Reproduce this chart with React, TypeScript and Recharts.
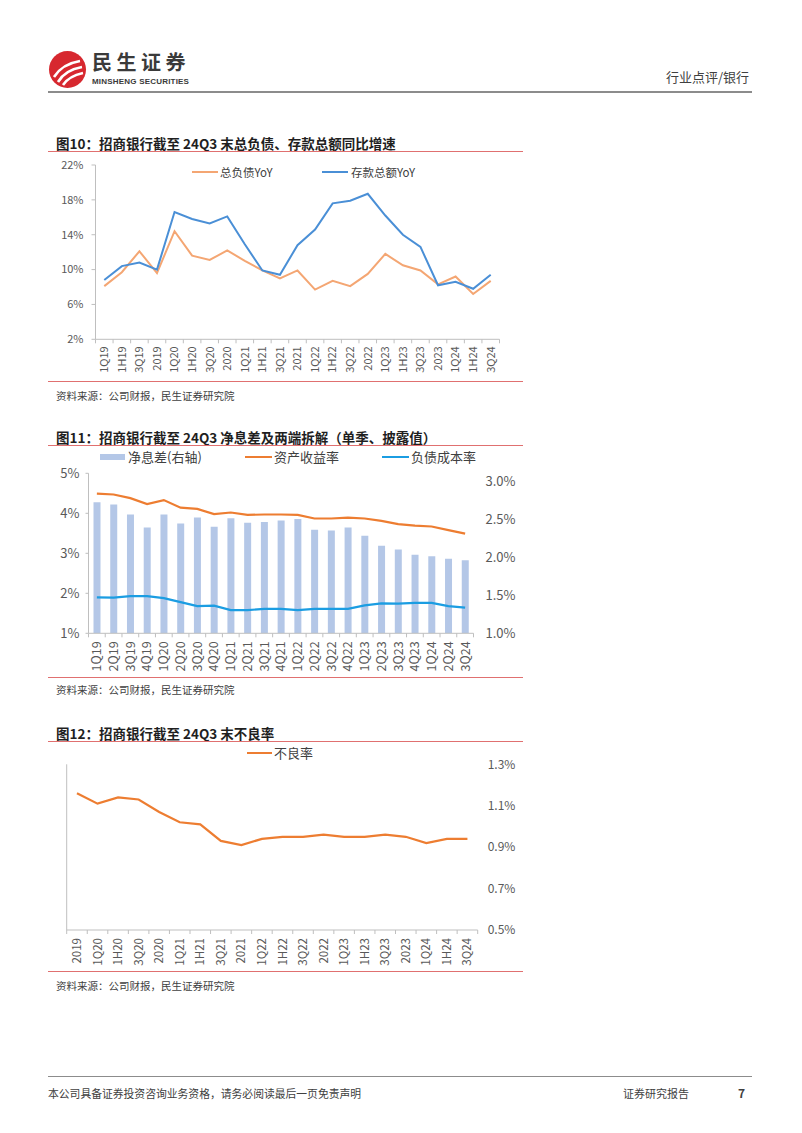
import React from "react";
import { Bar, ComposedChart, Line, LineChart, XAxis, YAxis } from "recharts";

const FONT = '"Noto Sans CJK SC", "Noto Sans", sans-serif';
const AXIS_GREY = "#BFBFBF";
const LABEL_GREY = "#595959";
const RULE_RED = "#E07070";

// 图10 总负债、存款总额同比增速 (%)
const periods10 = ["1Q19", "1H19", "3Q19", "2019", "1Q20", "1H20", "3Q20", "2020", "1Q21", "1H21", "3Q21", "2021", "1Q22", "1H22", "3Q22", "2022", "1Q23", "1H23", "3Q23", "2023", "1Q24", "1H24", "3Q24"];
const liabilityYoY = [8.1, 9.7, 12.1, 9.6, 14.4, 11.6, 11.1, 12.2, 11.0, 9.9, 9.0, 9.9, 7.7, 8.7, 8.1, 9.5, 11.8, 10.5, 9.9, 8.3, 9.2, 7.2, 8.7];
const depositYoY = [8.8, 10.4, 10.8, 10.0, 16.6, 15.8, 15.3, 16.1, 12.9, 9.9, 9.4, 12.8, 14.6, 17.6, 17.9, 18.7, 16.2, 14.0, 12.6, 8.2, 8.6, 7.8, 9.4];
const ticks10 = [2, 6, 10, 14, 18, 22];

// 图11 净息差及两端拆解 (%)
const quarters11 = ["1Q19", "2Q19", "3Q19", "4Q19", "1Q20", "2Q20", "3Q20", "4Q20", "1Q21", "2Q21", "3Q21", "4Q21", "1Q22", "2Q22", "3Q22", "4Q22", "1Q23", "2Q23", "3Q23", "4Q23", "1Q24", "2Q24", "3Q24"];
const nim = [2.72, 2.69, 2.56, 2.39, 2.56, 2.44, 2.52, 2.4, 2.51, 2.45, 2.46, 2.48, 2.5, 2.36, 2.35, 2.39, 2.28, 2.15, 2.1, 2.03, 2.01, 1.98, 1.96];
const assetYield = [4.49, 4.47, 4.38, 4.23, 4.33, 4.14, 4.11, 3.98, 4.02, 3.96, 3.97, 3.97, 3.96, 3.87, 3.87, 3.89, 3.87, 3.81, 3.73, 3.69, 3.67, 3.58, 3.49];
const liabilityCost = [1.9, 1.89, 1.93, 1.93, 1.88, 1.78, 1.68, 1.69, 1.58, 1.58, 1.61, 1.61, 1.58, 1.61, 1.61, 1.61, 1.7, 1.75, 1.74, 1.76, 1.76, 1.68, 1.64];
const leftTicks11 = [1, 2, 3, 4, 5];
const rightTicks11 = [1, 1.5, 2, 2.5, 3];

// 图12 不良率 (%)
const periods12 = ["2019", "1Q20", "1H20", "3Q20", "2020", "1Q21", "1H21", "3Q21", "2021", "1Q22", "1H22", "3Q22", "2022", "1Q23", "1H23", "3Q23", "2023", "1Q24", "1H24", "3Q24"];
const nplRatio = [1.16, 1.11, 1.14, 1.13, 1.07, 1.02, 1.01, 0.93, 0.91, 0.94, 0.95, 0.95, 0.96, 0.95, 0.95, 0.96, 0.95, 0.92, 0.94, 0.94];
const ticks12 = [0.5, 0.7, 0.9, 1.1, 1.3];

const data10 = periods10.map((p, i) => ({ p, liab: liabilityYoY[i], dep: depositYoY[i] }));
const data11 = quarters11.map((q, i) => ({ q, nim: nim[i], ay: assetYield[i], lc: liabilityCost[i] }));
const data12 = periods12.map((p, i) => ({ p, npl: nplRatio[i] }));

// rotated category label + tick marks on the category boundaries
function makeTick(plotWidth: number, count: number, fontSize: number, gap: number) {
  const half = plotWidth / count / 2;
  return (props: any) => {
    const { x, y, payload, index } = props;
    return (
      <g>
        <line x1={x - half} x2={x - half} y1={y} y2={y + 4} stroke={AXIS_GREY} />
        {index === count - 1 && <line x1={x + half} x2={x + half} y1={y} y2={y + 4} stroke={AXIS_GREY} />}
        <text
          transform={`translate(${x},${y + gap}) rotate(-90)`}
          textAnchor="end"
          dy="0.35em"
          fontSize={fontSize}
          fill={LABEL_GREY}
          fontFamily={FONT}
        >
          {payload.value}
        </text>
      </g>
    );
  };
}

function Abs({ left, top, children, style }: any) {
  return <div style={{ position: "absolute", left, top, whiteSpace: "nowrap", ...style }}>{children}</div>;
}

function Rule({ top, left = 48, width = 475, color = RULE_RED, h = 1 }: any) {
  return <div style={{ position: "absolute", left, top, width, height: h, background: color }} />;
}

function Title({ top, children }: any) {
  return (
    <Abs left={56} top={top - 9} style={{ fontSize: 13.5, lineHeight: "18px", fontWeight: 700, color: "#1f1f1f" }}>
      {children}
    </Abs>
  );
}

function Source({ top }: any) {
  return (
    <Abs left={56} top={top - 7} style={{ fontSize: 10.5, lineHeight: "14px", color: "#404040" }}>
      资料来源：公司财报，民生证券研究院
    </Abs>
  );
}

function LegendLine({ left, top, width, color, text, fontSize, textLeft }: any) {
  return (
    <>
      <div style={{ position: "absolute", left, top: top - 1, width, height: 2.2, background: color }} />
      <Abs left={textLeft} top={top - fontSize * 0.7} style={{ fontSize, lineHeight: `${fontSize * 1.4}px`, color: "#404040" }}>
        {text}
      </Abs>
    </>
  );
}

function Logo() {
  return (
    <svg style={{ position: "absolute", left: 48, top: 50 }} width={40} height={40}>
      <circle cx={19.5} cy={19.5} r={18.5} fill="#D7282F" />
      <path d="M6 27 Q14 14 32 11" stroke="#fff" strokeWidth={2.6} fill="none" />
      <path d="M10 32 Q17 20 34 17" stroke="#fff" strokeWidth={2.6} fill="none" />
      <path d="M15 35 Q21 26 35 23" stroke="#fff" strokeWidth={2.6} fill="none" />
    </svg>
  );
}

export default function App() {
  return (
    <div style={{ position: "absolute", left: 0, top: 0, width: 802, height: 1133, background: "#fff", fontFamily: FONT }}>
      {/* header */}
      <Logo />
      <Abs left={92} top={50.5} style={{ fontSize: 20, lineHeight: "21px", fontWeight: 700, color: "#3a3a3a", letterSpacing: 4.5 }}>
        民生证券
      </Abs>
      <Abs left={92} top={76.5} style={{ fontSize: 8, lineHeight: "9px", fontWeight: 700, color: "#3a3a3a", fontFamily: "Arial, 'Liberation Sans', sans-serif", letterSpacing: 0.2 }}>
        MINSHENG SECURITIES
      </Abs>
      <Abs left={666} top={69} style={{ fontSize: 13, lineHeight: "16px", color: "#404040" }}>
        行业点评/银行
      </Abs>
      <Rule top={91} left={48} width={704} color="#8c8c8c" h={1.5} />

      {/* 图10 */}
      <Title top={142.5}>图10：招商银行截至 24Q3 末总负债、存款总额同比增速</Title>
      <Rule top={150.5} />
      <LegendLine left={192} top={172} width={26} color="#F4A673" text="总负债YoY" fontSize={11.5} textLeft={220} />
      <LegendLine left={322} top={172} width={26} color="#4A8FD6" text="存款总额YoY" fontSize={11.5} textLeft={351} />
      <div style={{ position: "absolute", left: 40, top: 155 }}>
        <LineChart width={480} height={230} data={data10} margin={{ top: 10, right: 20.5, bottom: 5.7, left: 15.5 }}>
          <XAxis
            dataKey="p"
            scale="band"
            interval={0}
            height={40}
            tickLine={false}
            tickSize={0}
            tickMargin={0}
            axisLine={{ stroke: AXIS_GREY }}
            tick={makeTick(404, periods10.length, 11, 7)}
          />
          <YAxis
            width={40}
            domain={[2, 22]}
            ticks={ticks10}
            tickFormatter={(v: number) => `${v}%`}
            axisLine={{ stroke: AXIS_GREY }}
            tickLine={{ stroke: AXIS_GREY }}
            tickSize={4}
            tickMargin={8}
            tick={{ fontSize: 11, fill: LABEL_GREY, fontFamily: FONT }}
          />
          <Line dataKey="liab" type="linear" stroke="#F4A673" strokeWidth={2} dot={false} isAnimationActive={false} />
          <Line dataKey="dep" type="linear" stroke="#4A8FD6" strokeWidth={2} dot={false} isAnimationActive={false} />
        </LineChart>
      </div>
      <Rule top={381} />
      <Source top={396} />

      {/* 图11 */}
      <Title top={437}>图11：招商银行截至 24Q3 净息差及两端拆解（单季、披露值）</Title>
      <Rule top={445} />
      <div style={{ position: "absolute", left: 100, top: 454, width: 25, height: 6, background: "#B4C7E7" }} />
      <Abs left={128} top={448} style={{ fontSize: 13, lineHeight: "18px", color: "#404040" }}>净息差(右轴)</Abs>
      <LegendLine left={245} top={457} width={27} color="#ED7D31" text="资产收益率" fontSize={13} textLeft={274} />
      <LegendLine left={382} top={457} width={27} color="#1B9DE2" text="负债成本率" fontSize={13} textLeft={411} />
      <div style={{ position: "absolute", left: 40, top: 463 }}>
        <ComposedChart width={480} height={220} data={data11} margin={{ top: 10.3, right: 6.5, bottom: 5.7, left: 12.5 }}>
          <XAxis
            dataKey="q"
            interval={0}
            height={44}
            tickLine={false}
            tickSize={0}
            tickMargin={0}
            axisLine={{ stroke: AXIS_GREY }}
            tick={makeTick(385, quarters11.length, 12.5, 8)}
          />
          <YAxis
            yAxisId="left"
            width={36}
            domain={[1, 5]}
            ticks={leftTicks11}
            tickFormatter={(v: number) => `${v}%`}
            axisLine={{ stroke: AXIS_GREY }}
            tickLine={{ stroke: AXIS_GREY }}
            tickSize={3}
            tickMargin={6}
            tick={{ fontSize: 13, fill: LABEL_GREY, fontFamily: FONT }}
          />
          <YAxis
            yAxisId="right"
            orientation="right"
            width={40}
            domain={[1, 3.1]}
            ticks={rightTicks11}
            allowDataOverflow
            tickFormatter={(v: number) => `${v.toFixed(1)}%`}
            axisLine={false}
            tickLine={false}
            tickSize={0}
            tickMargin={12}
            tick={{ fontSize: 13, fill: LABEL_GREY, fontFamily: FONT }}
          />
          <Bar yAxisId="right" dataKey="nim" fill="#B4C7E7" barSize={7} isAnimationActive={false} />
          <Line yAxisId="left" dataKey="ay" type="linear" stroke="#ED7D31" strokeWidth={2.2} dot={false} isAnimationActive={false} />
          <Line yAxisId="left" dataKey="lc" type="linear" stroke="#1B9DE2" strokeWidth={2.2} dot={false} isAnimationActive={false} />
        </ComposedChart>
      </div>
      <Rule top={677} />
      <Source top={690} />

      {/* 图12 */}
      <Title top={732.5}>图12：招商银行截至 24Q3 末不良率</Title>
      <Rule top={740.5} />
      <LegendLine left={247} top={753} width={25} color="#ED7D31" text="不良率" fontSize={13} textLeft={274} />
      <div style={{ position: "absolute", left: 30, top: 755 }}>
        <LineChart width={490} height={220} data={data12} margin={{ top: 9.3, right: 2.3, bottom: 5, left: 16.7 }}>
          <XAxis
            dataKey="p"
            scale="band"
            interval={0}
            height={40}
            tickLine={false}
            tickSize={0}
            tickMargin={0}
            axisLine={{ stroke: AXIS_GREY }}
            tick={makeTick(411, periods12.length, 11.5, 8)}
          />
          <YAxis
            yAxisId="left"
            width={20}
            domain={[0.5, 1.3]}
            ticks={ticks12}
            axisLine={{ stroke: AXIS_GREY }}
            tickLine={{ stroke: AXIS_GREY }}
            tickSize={4}
            tick={() => <g />}
          />
          <YAxis
            yAxisId="right"
            orientation="right"
            width={40}
            domain={[0.5, 1.3]}
            ticks={ticks12}
            tickFormatter={(v: number) => `${v.toFixed(1)}%`}
            axisLine={false}
            tickLine={false}
            tickSize={0}
            tickMargin={10}
            tick={{ fontSize: 12, fill: LABEL_GREY, fontFamily: FONT }}
          />
          <Line yAxisId="right" dataKey="npl" type="linear" stroke="#ED7D31" strokeWidth={2.2} dot={false} isAnimationActive={false} />
        </LineChart>
      </div>
      <Rule top={971} />
      <Source top={985.5} />

      {/* footer */}
      <Rule top={1076} left={48} width={704} color="#8c8c8c" h={1} />
      <Abs left={48} top={1086} style={{ fontSize: 10.8, lineHeight: "14px", color: "#404040" }}>
        本公司具备证券投资咨询业务资格，请务必阅读最后一页免责声明
      </Abs>
      <Abs left={623} top={1086} style={{ fontSize: 11, lineHeight: "14px", color: "#404040" }}>
        证券研究报告
      </Abs>
      <Abs left={738} top={1085} style={{ fontSize: 12, lineHeight: "15px", color: "#404040", fontWeight: 700 }}>
        7
      </Abs>
    </div>
  );
}
